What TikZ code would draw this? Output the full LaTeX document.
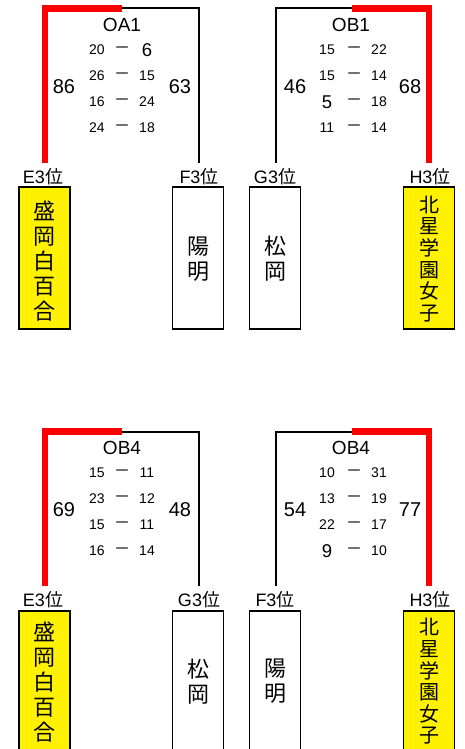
\documentclass[tikz,border=0pt]{standalone}
\usepackage{fontspec}
\setmainfont{Liberation Sans}
\newfontfamily\jp{Noto Sans CJK JP}
\newcommand\bigsc{\fontsize{18.5}{18.5}\selectfont}
\tikzset{
 sc/.style={inner sep=0pt, font=\fontsize{14}{14}\selectfont},
 dsh/.style={inner sep=0pt, font=\jp\fontsize{16}{16}\selectfont},
 tot/.style={inner sep=0pt, font=\fontsize{20}{20}\selectfont},
 ttl/.style={inner sep=0pt, font=\fontsize{19}{19}\selectfont},
 lab/.style={inner sep=0pt, font=\fontsize{18}{18}\selectfont},
 team/.style={draw, line width=1.6pt, minimum width=51pt, minimum height=142pt, inner sep=0pt},
 win/.style={team, fill=yellow},
 tname/.style={inner sep=0pt, align=center, font=\jp\fontsize{22}{25}\selectfont},
 tname6/.style={inner sep=0pt, align=center, font=\jp\fontsize{20}{21.6}\selectfont},
 wline/.style={red, line width=6.5pt},
 lline/.style={black, line width=2pt},
}
% #1 name prefix, #2 y, #3 x left, #4 x dash, #5 x right, #6 left score, #7 right score
\newcommand\srow[7]{%
 \node[sc] (#1l) at (#3,#2) {#6};
 \node[dsh] (#1d) at (#4,#2) {－};
 \node[sc] (#1r) at (#5,#2) {#7};
}
\begin{document}
\begin{tikzpicture}[x=1pt,y=-1pt]
\useasboundingbox (0,0) rectangle (464,749);

% ---------- top half ----------
% OA1
\coordinate (a-l) at (45,163);
\coordinate (a-m) at (122,8.5);
\coordinate (a-r) at (198.5,163);
\draw[lline] (a-m) -| (a-r);
\draw[wline] (a-l) |- (a-m);
\node[ttl] (a-t) at (122,25) {OA1};
\node[tot] (a-tl) at (64,87) {86};
\node[tot] (a-tr) at (180,87) {63};
\srow{a1}{50}{97}{122}{147}{20}{\bigsc 6}
\srow{a2}{76}{97}{122}{147}{26}{15}
\srow{a3}{102}{97}{122}{147}{16}{24}
\srow{a4}{128}{97}{122}{147}{24}{18}

% OB1
\coordinate (b-l) at (276,163);
\coordinate (b-m) at (352,8.5);
\coordinate (b-r) at (429,163);
\draw[lline] (b-l) |- (b-m);
\draw[wline] (b-m) -| (b-r);
\node[ttl] (b-t) at (351,25) {OB1};
\node[tot] (b-tl) at (295,87) {46};
\node[tot] (b-tr) at (410,87) {68};
\srow{b1}{50}{327}{354}{379}{15}{22}
\srow{b2}{76}{327}{354}{379}{15}{14}
\srow{b3}{102}{327}{354}{379}{\bigsc 5}{18}
\srow{b4}{128}{327}{354}{379}{11}{14}

% labels and teams
\node[lab] (l-e) at (43,177) {E3{\jp 位}};
\node[lab] (l-f) at (199,177) {F3{\jp 位}};
\node[lab] (l-g) at (275,177) {G3{\jp 位}};
\node[lab] (l-h) at (430,177) {H3{\jp 位}};
\node[win] (t-e) at (44.5,258) {};
\node[team] (t-f) at (198,258) {};
\node[team] (t-g) at (275,258) {};
\node[win] (t-h) at (429,258) {};
\node[tname] (n-e) at (44.5,261) {盛\\岡\\白\\百\\合};
\node[tname] (n-f) at (198,259) {陽\\明};
\node[tname] (n-g) at (275,259) {松\\岡};
\node[tname6] (n-h) at (429,259) {北\\星\\学\\園\\女\\子};

% ---------- bottom half ----------
\begin{scope}[shift={(0,423)}]
% OB4 left
\coordinate (c-l) at (45,163);
\coordinate (c-m) at (122,8.5);
\coordinate (c-r) at (198.5,163);
\draw[lline] (c-m) -| (c-r);
\draw[wline] (c-l) |- (c-m);
\node[ttl] (c-t) at (122,25) {OB4};
\node[tot] (c-tl) at (64,87) {69};
\node[tot] (c-tr) at (180,87) {48};
\srow{c1}{50}{97}{122}{147}{15}{11}
\srow{c2}{76}{97}{122}{147}{23}{12}
\srow{c3}{102}{97}{122}{147}{15}{11}
\srow{c4}{128}{97}{122}{147}{16}{14}

% OB4 right
\coordinate (d-l) at (276,163);
\coordinate (d-m) at (352,8.5);
\coordinate (d-r) at (429,163);
\draw[lline] (d-l) |- (d-m);
\draw[wline] (d-m) -| (d-r);
\node[ttl] (d-t) at (351,25) {OB4};
\node[tot] (d-tl) at (295,87) {54};
\node[tot] (d-tr) at (410,87) {77};
\srow{d1}{50}{327}{354}{379}{10}{31}
\srow{d2}{76}{327}{354}{379}{13}{19}
\srow{d3}{102}{327}{354}{379}{22}{17}
\srow{d4}{128}{327}{354}{379}{\bigsc 9}{10}

\node[lab] (m-e) at (43,177) {E3{\jp 位}};
\node[lab] (m-g) at (199,177) {G3{\jp 位}};
\node[lab] (m-f) at (275,177) {F3{\jp 位}};
\node[lab] (m-h) at (430,177) {H3{\jp 位}};
\node[win] (u-e) at (44.5,259) {};
\node[team] (u-g) at (198,259) {};
\node[team] (u-f) at (275,259) {};
\node[win] (u-h) at (429,259) {};
\node[tname] (o-e) at (44.5,259.5) {盛\\岡\\白\\百\\合};
\node[tname] (o-g) at (198,258.5) {松\\岡};
\node[tname] (o-f) at (275,258.5) {陽\\明};
\node[tname6] (o-h) at (429,258.5) {北\\星\\学\\園\\女\\子};
\end{scope}
\end{tikzpicture}
\end{document}
